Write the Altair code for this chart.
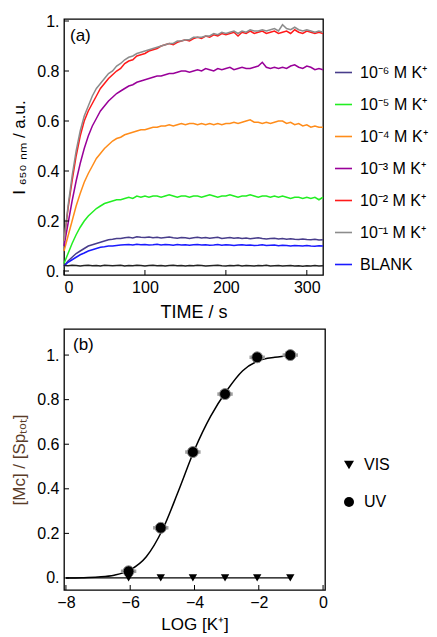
import altair as alt
import pandas as pd

# ---------------- panel (a): kinetics ----------------
time_s = [0, 5, 10, 15, 20, 25, 30, 35, 40, 45, 50, 55, 60, 65, 70, 75, 80, 85, 90, 95,
          100, 105, 110, 115, 120, 125, 130, 135, 140, 145, 150, 155, 160, 165, 170, 175,
          180, 185, 190, 195, 200, 205, 210, 215, 220, 225, 230, 235, 240, 245, 250, 255,
          260, 265, 270, 275, 280, 285, 290, 295, 300, 305, 310, 315, 320]

k_1e6 = [0.02, 0.04, 0.055, 0.07, 0.08, 0.09, 0.10, 0.105, 0.11, 0.115, 0.12, 0.125, 0.127, 0.13, 0.13, 0.133,
         0.135, 0.132, 0.137, 0.135, 0.134, 0.136, 0.133, 0.135, 0.132, 0.134, 0.136, 0.133, 0.131, 0.134,
         0.133, 0.13, 0.133, 0.135, 0.132, 0.134, 0.131, 0.133, 0.135, 0.13, 0.132, 0.134, 0.131, 0.133,
         0.13, 0.132, 0.129, 0.131, 0.133, 0.13, 0.128, 0.13, 0.131, 0.128, 0.13, 0.127, 0.129, 0.127,
         0.126, 0.128, 0.126, 0.125, 0.127, 0.124, 0.125]
k_1e5 = [0.03, 0.07, 0.11, 0.145, 0.175, 0.20, 0.22, 0.235, 0.25, 0.26, 0.27, 0.275, 0.28, 0.285, 0.285, 0.29,
         0.295, 0.29, 0.30, 0.295, 0.30, 0.295, 0.30, 0.30, 0.295, 0.30, 0.305, 0.30, 0.295, 0.30, 0.30,
         0.295, 0.30, 0.30, 0.295, 0.30, 0.305, 0.30, 0.295, 0.30, 0.30, 0.305, 0.30, 0.295, 0.30, 0.30,
         0.305, 0.30, 0.295, 0.30, 0.30, 0.295, 0.30, 0.295, 0.30, 0.295, 0.29, 0.295, 0.295, 0.29, 0.295,
         0.29, 0.295, 0.285, 0.295]
k_1e4 = [0.08, 0.14, 0.20, 0.26, 0.31, 0.355, 0.39, 0.42, 0.45, 0.47, 0.49, 0.505, 0.52, 0.53, 0.535, 0.545,
         0.55, 0.555, 0.56, 0.565, 0.565, 0.57, 0.575, 0.575, 0.58, 0.58, 0.585, 0.58, 0.585, 0.59, 0.585,
         0.59, 0.59, 0.585, 0.59, 0.585, 0.59, 0.585, 0.59, 0.585, 0.59, 0.59, 0.595, 0.59, 0.595, 0.60,
         0.605, 0.595, 0.595, 0.59, 0.595, 0.59, 0.595, 0.60, 0.60, 0.59, 0.595, 0.585, 0.59, 0.58, 0.585,
         0.575, 0.58, 0.575, 0.575]
k_1e3 = [0.10, 0.19, 0.28, 0.36, 0.43, 0.49, 0.54, 0.58, 0.61, 0.64, 0.66, 0.68, 0.695, 0.71, 0.72, 0.73,
         0.74, 0.745, 0.755, 0.76, 0.765, 0.77, 0.775, 0.78, 0.78, 0.785, 0.79, 0.79, 0.795, 0.80, 0.80,
         0.795, 0.80, 0.805, 0.80, 0.81, 0.805, 0.80, 0.81, 0.805, 0.81, 0.815, 0.805, 0.81, 0.815, 0.81,
         0.81, 0.815, 0.82, 0.835, 0.815, 0.81, 0.815, 0.81, 0.815, 0.81, 0.82, 0.825, 0.815, 0.81, 0.82,
         0.815, 0.805, 0.81, 0.805]
k_1e2 = [0.12, 0.25, 0.36, 0.46, 0.54, 0.60, 0.64, 0.67, 0.70, 0.73, 0.75, 0.77, 0.785, 0.80, 0.81, 0.83,
         0.84, 0.845, 0.86, 0.865, 0.87, 0.88, 0.885, 0.89, 0.90, 0.905, 0.91, 0.905, 0.915, 0.92, 0.925,
         0.92, 0.93, 0.935, 0.93, 0.94, 0.935, 0.945, 0.94, 0.95, 0.945, 0.95, 0.955, 0.94, 0.955, 0.95,
         0.96, 0.95, 0.955, 0.96, 0.95, 0.955, 0.96, 0.95, 0.955, 0.96, 0.95, 0.965, 0.955, 0.95, 0.96,
         0.955, 0.95, 0.955, 0.95]
k_1e1 = [0.12, 0.26, 0.38, 0.48, 0.56, 0.62, 0.66, 0.70, 0.73, 0.75, 0.77, 0.79, 0.80, 0.82, 0.83, 0.845,
         0.855, 0.86, 0.87, 0.875, 0.88, 0.885, 0.89, 0.895, 0.90, 0.905, 0.91, 0.91, 0.92, 0.92, 0.925,
         0.925, 0.935, 0.935, 0.935, 0.94, 0.94, 0.95, 0.945, 0.955, 0.95, 0.955, 0.96, 0.95, 0.96, 0.955,
         0.965, 0.96, 0.96, 0.965, 0.96, 0.965, 0.97, 0.96, 0.985, 0.97, 0.965, 0.975, 0.965, 0.96, 0.965,
         0.96, 0.955, 0.96, 0.955]
k_blank = [0.02, 0.035, 0.045, 0.055, 0.065, 0.072, 0.08, 0.085, 0.09, 0.095, 0.097, 0.10, 0.10, 0.102,
           0.104, 0.105, 0.106, 0.104, 0.107, 0.105, 0.106, 0.104, 0.105, 0.107, 0.104, 0.106, 0.105, 0.103,
           0.106, 0.104, 0.105, 0.103, 0.105, 0.106, 0.104, 0.105, 0.103, 0.104, 0.106, 0.103, 0.105, 0.104,
           0.102, 0.104, 0.105, 0.103, 0.104, 0.102, 0.103, 0.105, 0.102, 0.103, 0.104, 0.101, 0.103, 0.102,
           0.1, 0.102, 0.101, 0.1, 0.102, 0.1, 0.099, 0.101, 0.1]
k_base = [0.022, 0.021, 0.023, 0.022, 0.02, 0.022, 0.023, 0.021, 0.022, 0.02,
          0.023, 0.022, 0.021, 0.022, 0.023, 0.02, 0.022, 0.021, 0.023, 0.022,
          0.02, 0.022, 0.023, 0.021, 0.022, 0.02, 0.022, 0.023, 0.021, 0.022,
          0.02, 0.022, 0.021, 0.023, 0.022, 0.02, 0.021, 0.022, 0.023, 0.021,
          0.02, 0.022, 0.021, 0.023, 0.02, 0.022, 0.021, 0.02, 0.022, 0.021,
          0.023, 0.02, 0.021, 0.022, 0.02, 0.021, 0.022, 0.02, 0.021, 0.019,
          0.021, 0.02, 0.022, 0.02, 0.021]

series_labels = ["10⁻⁶ M K⁺", "10⁻⁵ M K⁺", "10⁻⁴ M K⁺", "10⁻³ M K⁺",
                 "10⁻² M K⁺", "10⁻¹ M K⁺", "BLANK"]
series_colors = ["#483d8b", "#22ee22", "#ff8c1a", "#990099", "#ff1a1a", "#8c8c8c", "#1a1aff"]
series_values = [k_1e6, k_1e5, k_1e4, k_1e3, k_1e2, k_1e1, k_blank]

x_ticks_a = [0, 100, 200, 300]
y_ticks = [0, 0.2, 0.4, 0.6, 0.8, 1.0]

# ---------------- panel (b): titration ----------------
log_k = [-6.05, -5.05, -4.05, -3.05, -2.05, -1.02]
uv_frac = [0.03, 0.225, 0.565, 0.825, 0.99, 1.0]
uv_xerr = [0.24, 0.24, 0.24, 0.24, 0.24, 0.24]
vis_frac = [0.0, 0.0, 0.0, 0.0, 0.0, 0.0]
fit_x = [-8, -7.5, -7, -6.5, -6, -5.5, -5, -4.5, -4, -3.5, -3, -2.5, -2, -1.5, -1]
fit_y = [0.0, 0.001, 0.004, 0.012, 0.036, 0.095, 0.215, 0.39, 0.575, 0.725, 0.84, 0.93, 0.975, 0.99, 0.997]
vis_line_x = [-8, -1]
vis_line_y = [0.0, 0.0]
x_ticks_b = [-8, -6, -4, -2, 0]

# ---------------- build tables ----------------
for s in series_values + [k_base]:
    assert len(s) == len(time_s), len(s)

rows = []
for lab, vals in zip(series_labels, series_values):
    for t, v in zip(time_s, vals):
        rows.append({"t": t, "I": v, "series": lab})
kin_df = pd.DataFrame(rows)
base_df = pd.DataFrame({"t": time_s, "I": k_base})

FONT = "Liberation Sans"
ylab_expr = ("abs(datum.value) < 1e-6 ? '0.' : abs(datum.value - 1) < 1e-6 ? '1.' : "
             "format(datum.value, '.1f')")

W1, H1 = 259, 256
xs_a = alt.Scale(domain=[0, 320], nice=False, zero=False)
ys_a = alt.Scale(domain=[-0.016, 1.008], nice=False, zero=False)

axis_common = dict(domain=False, ticks=False, grid=False, labelFontSize=16, labelColor="black",
                   titleFontSize=17, titleFontWeight="normal", titleColor="black", labelFont=FONT,
                   titleFont=FONT)

ax_a_x = alt.Axis(values=x_ticks_a, title="TIME / s", labelPadding=4, titlePadding=8,
                  **{**axis_common, "titleFontSize": 18})
ax_a_y = alt.Axis(values=y_ticks, title="I ₆₅₀ ₙₘ / a.u.", labelExpr=ylab_expr,
                  labelPadding=5, titlePadding=8, **axis_common)

lines_a = alt.Chart(kin_df).mark_line(strokeWidth=1.5).encode(
    x=alt.X("t:Q", scale=xs_a, axis=ax_a_x),
    y=alt.Y("I:Q", scale=ys_a, axis=ax_a_y),
    color=alt.Color("series:N",
                    scale=alt.Scale(domain=series_labels, range=series_colors),
                    sort=series_labels,
                    legend=alt.Legend(title=None, orient="none", legendX=W1 + 11, legendY=44,
                                      symbolType="stroke", symbolSize=289, symbolStrokeWidth=1.6,
                                      labelFontSize=16, labelFont=FONT, labelColor="black",
                                      rowPadding=14, labelOffset=7)),
)
base_a = alt.Chart(base_df).mark_line(strokeWidth=1.5, color="#222222").encode(
    x=alt.X("t:Q", scale=xs_a, axis=ax_a_x), y=alt.Y("I:Q", scale=ys_a, axis=ax_a_y))

xt_a = alt.Chart(pd.DataFrame({"t": x_ticks_a})).mark_rule(color="black", strokeWidth=1).encode(
    x=alt.X("t:Q", scale=xs_a, axis=ax_a_x), y=alt.value(H1), y2=alt.value(H1 - 5))
yt_a = alt.Chart(pd.DataFrame({"I": y_ticks})).mark_rule(color="black", strokeWidth=1).encode(
    y=alt.Y("I:Q", scale=ys_a, axis=ax_a_y), x=alt.value(0), x2=alt.value(5))
lab_a = alt.Chart(pd.DataFrame({"txt": ["(a)"]})).mark_text(
    align="left", baseline="middle", fontSize=17, font=FONT, color="black").encode(
    text="txt:N", x=alt.value(6), y=alt.value(17))

panel_a = alt.layer(lines_a, base_a, xt_a, yt_a, lab_a).properties(width=W1, height=H1)

# panel b
W2, H2 = 261, 261
xs_b = alt.Scale(domain=[-8.06, 0.06], nice=False, zero=False)
ys_b = alt.Scale(domain=[-0.054, 1.117], nice=False, zero=False)

fit_df = pd.DataFrame({"x": fit_x, "y": fit_y})
vis_line_df = pd.DataFrame({"x": vis_line_x, "y": vis_line_y})
uv_df = pd.DataFrame({"x": log_k, "y": uv_frac, "lo": [a - e for a, e in zip(log_k, uv_xerr)],
                      "hi": [a + e for a, e in zip(log_k, uv_xerr)], "kind": ["UV"] * len(log_k)})
vis_df = pd.DataFrame({"x": log_k, "y": vis_frac, "kind": ["VIS"] * len(log_k)})

shape_scale = alt.Scale(domain=["VIS", "UV"], range=["triangle-down", "circle"])

ax_b_x = alt.Axis(values=x_ticks_b, title="LOG [K⁺]", labelPadding=4, titlePadding=6,
                  labelExpr="replace(format(datum.value, 'd'), '-', '−')", **axis_common)
ax_b_y = alt.Axis(values=y_ticks, title="[Mc] / [Spₜₒₜ]", labelExpr=ylab_expr,
                  labelPadding=5, titlePadding=8, **{**axis_common, "titleColor": "#5a3c28"})

fit_line = alt.Chart(fit_df).mark_line(color="black", strokeWidth=1.5, interpolate="monotone").encode(
    x=alt.X("x:Q", scale=xs_b, axis=ax_b_x),
    y=alt.Y("y:Q", scale=ys_b, axis=ax_b_y),
)
vis_line = alt.Chart(vis_line_df).mark_line(color="black", strokeWidth=1.3).encode(
    x=alt.X("x:Q", scale=xs_b, axis=ax_b_x), y=alt.Y("y:Q", scale=ys_b, axis=ax_b_y))
err = alt.Chart(uv_df).mark_rule(color="#a0a0a0", strokeWidth=3.5).encode(
    x=alt.X("lo:Q", scale=xs_b, axis=ax_b_x), x2="hi:Q", y=alt.Y("y:Q", scale=ys_b, axis=ax_b_y))
legend_b = alt.Legend(title=None, orient="none", legendX=W2 + 16, legendY=128,
                      symbolSize=100, symbolFillColor="black", symbolStrokeColor="black",
                      labelFontSize=16, labelFont=FONT, labelColor="black", rowPadding=21,
                      labelOffset=7)
uv_pts = alt.Chart(uv_df).mark_point(filled=True, size=120, color="black", stroke="#888888",
                                     strokeWidth=1, opacity=1).encode(
    x=alt.X("x:Q", scale=xs_b, axis=ax_b_x), y=alt.Y("y:Q", scale=ys_b, axis=ax_b_y),
    shape=alt.Shape("kind:N", scale=shape_scale, legend=legend_b))
vis_pts = alt.Chart(vis_df).mark_point(filled=True, size=70, color="black", opacity=1).encode(
    x=alt.X("x:Q", scale=xs_b, axis=ax_b_x), y=alt.Y("y:Q", scale=ys_b, axis=ax_b_y),
    shape=alt.Shape("kind:N", scale=shape_scale, legend=legend_b))
xt_b = alt.Chart(pd.DataFrame({"x": x_ticks_b})).mark_rule(color="black", strokeWidth=1).encode(
    x=alt.X("x:Q", scale=xs_b, axis=ax_b_x), y=alt.value(H2), y2=alt.value(H2 - 5))
yt_b = alt.Chart(pd.DataFrame({"y": y_ticks})).mark_rule(color="black", strokeWidth=1).encode(
    y=alt.Y("y:Q", scale=ys_b, axis=ax_b_y), x=alt.value(0), x2=alt.value(5))
lab_b = alt.Chart(pd.DataFrame({"txt": ["(b)"]})).mark_text(
    align="left", baseline="middle", fontSize=17, font=FONT, color="black").encode(
    text="txt:N", x=alt.value(9), y=alt.value(16))

panel_b = alt.layer(fit_line, vis_line, err, uv_pts, vis_pts, xt_b, yt_b, lab_b).properties(
    width=W2, height=H2)

chart = alt.vconcat(panel_a, panel_b, spacing=6).resolve_scale(
    color="independent", shape="independent"
).configure(
    font=FONT, padding={"left": 10, "top": 12, "right": 0, "bottom": 0}
).configure_view(stroke="black", strokeWidth=1.3)

chart.save("out.html", embed_options={"renderer": "svg", "actions": False})
